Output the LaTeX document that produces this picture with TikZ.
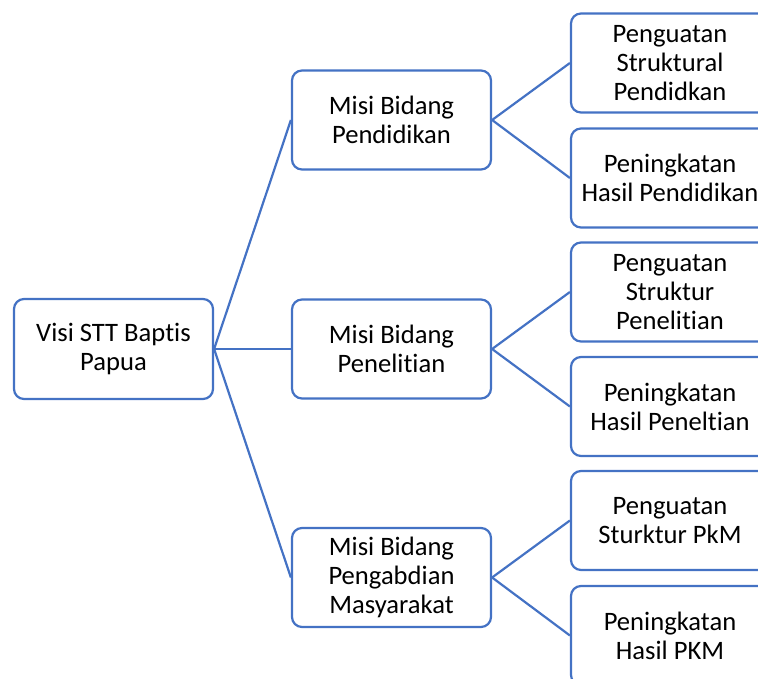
\documentclass[tikz,border=0pt]{standalone}
\usepackage{fontspec}
\setmainfont[Ligatures={NoCommon}]{Carlito}
\definecolor{lineblue}{HTML}{4472C4}
\begin{document}
\begin{tikzpicture}[x=1pt,y=-1pt,
  box/.style={draw=lineblue, line width=2.2pt, rounded corners=10pt, fill=white,
    minimum width=199pt, minimum height=99pt, align=center, inner sep=0pt,
    font=\fontsize{26.6}{29}\selectfont, text=black},
  link/.style={draw=lineblue, line width=2.2pt}]
\useasboundingbox (0,0) rectangle (758,679);
\begin{scope}
\clip (0,0) rectangle (758,679);
\node[box, minimum height=100pt] (root) at (113.5,349) {Visi STT Baptis\\Papua};
\node[box] (m1) at (391.5,120) {Misi Bidang\\Pendidikan};
\node[box] (m2) at (391.5,349) {Misi Bidang\\Penelitian};
\node[box] (m3) at (391.5,577.5) {Misi Bidang\\Pengabdian\\Masyarakat};
\node[box, minimum width=198pt] (r1) at (670,63) {Penguatan\\Struktural\\Pendidkan};
\node[box, minimum width=198pt] (r2) at (670,178) {Peningkatan\\Hasil Pendidikan};
\node[box, minimum width=198pt] (r3) at (670,292) {Penguatan\\Struktur\\Penelitian};
\node[box, minimum width=198pt] (r4) at (670,406.5) {Peningkatan\\Hasil Peneltian};
\node[box, minimum width=198pt] (r5) at (670,520.5) {Penguatan\\Sturktur PkM};
\node[box, minimum width=198pt] (r6) at (670,635.5) {Peningkatan\\Hasil PKM};
\draw[link] (root.east) -- (m1.west);
\draw[link] (root.east) -- (m2.west);
\draw[link] (root.east) -- (m3.west);
\draw[link] (m1.east) -- (r1.west);
\draw[link] (m1.east) -- (r2.west);
\draw[link] (m2.east) -- (r3.west);
\draw[link] (m2.east) -- (r4.west);
\draw[link] (m3.east) -- (r5.west);
\draw[link] (m3.east) -- (r6.west);
\end{scope}
\end{tikzpicture}
\end{document}
